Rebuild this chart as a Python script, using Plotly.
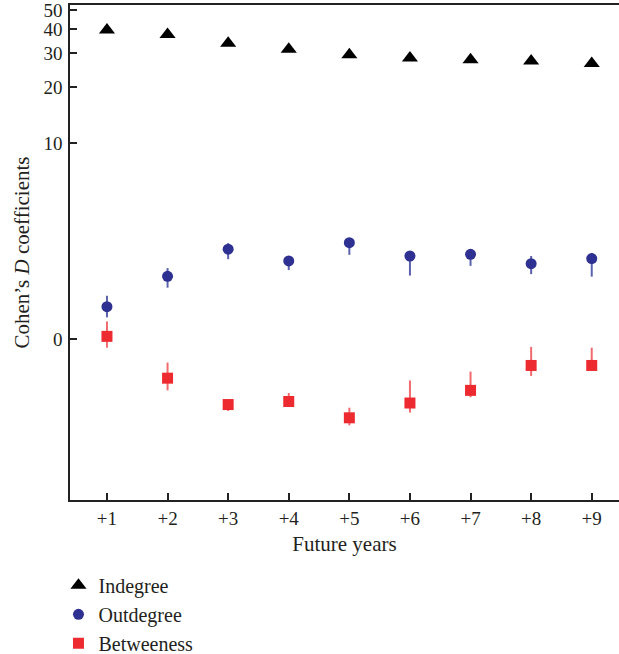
import math
import plotly.graph_objects as go

# ---- data ----
years = [1, 2, 3, 4, 5, 6, 7, 8, 9]
year_labels = ["+1", "+2", "+3", "+4", "+5", "+6", "+7", "+8", "+9"]

indegree = [39.6, 37.5, 33.8, 31.5, 29.5, 28.4, 27.8, 27.4, 26.6]

outdegree = [0.54, 1.26, 2.15, 1.73, 2.41, 1.90, 1.96, 1.64, 1.81]
outdegree_hi = [0.77, 1.50, 2.39, 1.90, 2.61, 2.08, 2.12, 1.90, 2.01]
outdegree_lo = [0.34, 0.96, 1.79, 1.44, 1.94, 1.28, 1.57, 1.32, 1.25]

betweeness = [0.04, -0.43, -0.63, -0.61, -0.71, -0.62, -0.53, -0.31, -0.31]
betweeness_hi = [0.27, -0.28, -0.60, -0.55, -0.65, -0.45, -0.37, -0.10, -0.11]
betweeness_lo = [-0.11, -0.53, -0.67, -0.64, -0.75, -0.68, -0.58, -0.41, -0.36]

y_ticks = [0, 10, 20, 30, 40, 50]

# the axis is logarithmic in (D + OFFSET)
OFFSET = 1.2
Y_MIN, Y_MAX = -1.008, 53.0

def shift(vals):
    return [v + OFFSET for v in vals]

def plus(c, hi):
    return [h - v for v, h in zip(c, hi)]

def minus(c, lo):
    return [v - l for v, l in zip(c, lo)]

FONT = "Liberation Serif"
TXT = "#231f20"
BLUE = "#2e3192"
RED = "#ed2a30"

fig = go.Figure()
fig.add_trace(go.Scatter(
    x=years, y=shift(indegree), mode="markers", name="Indegree",
    marker=dict(symbol="triangle-up", size=14, color="black"),
))
fig.add_trace(go.Scatter(
    x=years, y=shift(outdegree), mode="markers", name="Outdegree",
    marker=dict(symbol="circle", size=11, color=BLUE),
    error_y=dict(type="data", symmetric=False,
                 array=plus(outdegree, outdegree_hi),
                 arrayminus=minus(outdegree, outdegree_lo),
                 width=0, thickness=2, color="#5a62ad"),
))
fig.add_trace(go.Scatter(
    x=years, y=shift(betweeness), mode="markers", name="Betweeness",
    marker=dict(symbol="square", size=11, color=RED),
    error_y=dict(type="data", symmetric=False,
                 array=plus(betweeness, betweeness_hi),
                 arrayminus=minus(betweeness, betweeness_lo),
                 width=0, thickness=2, color="#f06a6e"),
))

fig.update_layout(
    width=619, height=654,
    margin=dict(l=70, r=0, t=5, b=154, autoexpand=False),
    paper_bgcolor="white", plot_bgcolor="white",
    font=dict(family=FONT, size=21, color=TXT),
    showlegend=True,
    legend=dict(x=-0.021, y=-0.133, xanchor="left", yanchor="top",
                orientation="v", font=dict(size=20, family=FONT, color=TXT),
                bgcolor="rgba(0,0,0,0)", tracegroupgap=0),
    xaxis=dict(
        range=[0.39, 9.45], tickvals=years, ticktext=year_labels,
        showgrid=False, zeroline=False, automargin=False,
        showline=True, linecolor="#222", linewidth=1.5, mirror=True,
        ticks="inside", ticklen=7, tickwidth=1.5, tickcolor="#222",
        ticklabelstandoff=0, ticklabeloverflow="allow",
        tickfont=dict(size=19, family=FONT, color=TXT),
        title=dict(text="Future years", standoff=9,
                   font=dict(size=21, family=FONT, color=TXT)),
    ),
    yaxis=dict(
        type="log",
        range=[math.log10(Y_MIN + OFFSET), math.log10(Y_MAX + OFFSET)],
        tickvals=shift(y_ticks), ticktext=[str(t) for t in y_ticks],
        showgrid=False, zeroline=False, automargin=False,
        showline=True, linecolor="#222", linewidth=1.5,
        ticks="inside", ticklen=7, tickwidth=1.5, tickcolor="#222",
        ticklabelstandoff=2, ticklabeloverflow="allow",
        tickfont=dict(size=19, family=FONT, color=TXT),
        title=dict(text="Cohen’s <i>D</i> coefficients", standoff=8,
                   font=dict(size=21, family=FONT, color=TXT)),
    ),
)

fig.write_html(
    "out.html",
    config={"displayModeBar": False},
    post_script="document.body.style.margin='0px';",
)
